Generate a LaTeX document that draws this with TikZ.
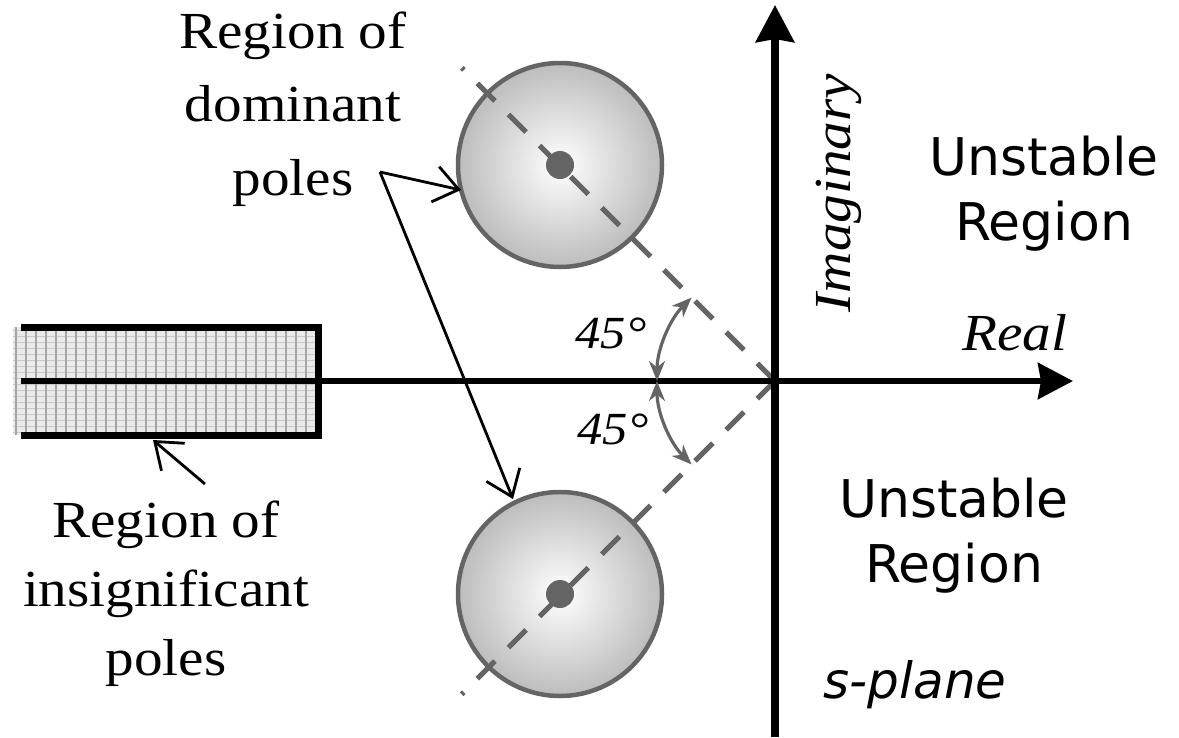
\documentclass[tikz,border=0pt]{standalone}
\usepackage{fontspec}
\setmainfont{Liberation Serif}[FakeStretch=1.1]
\newfontfamily\comic{DejaVu Sans}
\usetikzlibrary{arrows.meta,calc}
\definecolor{dgray}{RGB}{100,100,100}
\definecolor{gridfill}{RGB}{234,234,234}
\definecolor{gridline}{RGB}{165,165,165}
\begin{document}
\begin{tikzpicture}[x=1pt,y=-1pt,
  serif/.style={font=\fontsize{52}{60}\selectfont, inner sep=0pt},
  serifit/.style={font=\fontsize{52}{60}\selectfont\itshape, inner sep=0pt},
  deg/.style={font=\fontsize{46}{50}\selectfont\itshape, inner sep=0pt},
  comicfont/.style={font=\comic\fontsize{52}{60}\selectfont, inner sep=0pt},
  pointer/.style={line width=2.8pt, black, -{Straight Barb[length=24pt,width=36pt,line width=2.8pt]}},
  anglearc/.style={line width=3.2pt, dgray, {Stealth[length=20pt,width=16pt]}-{Stealth[length=20pt,width=16pt]}},
  diag/.style={line width=5pt, dgray, dash pattern=on 25pt off 19pt},
  zonefill/.style={inner color=white, outer color=black!26},
  zoneline/.style={line width=4.5pt, dgray},
]
\useasboundingbox (0,0) rectangle (1179,737);

% origin
\coordinate (O) at (775,381);

% insignificant region (grid)
\fill[gridfill] (13,327) rectangle (318,435);
\foreach \yy in {330,336,...,432} \draw[gridline!60, line width=0.8pt] (13,\yy) -- (318,\yy);
\foreach \xx in {16,26,...,316} \draw[gridline, line width=1.3pt] (\xx,327) -- (\xx,435);
\draw[line width=7pt, line join=miter] (21,327) -- (318,327) -- (318,435) -- (21,435);

% circles
\coordinate (C1) at (560,165);
\coordinate (C2) at (560,594);
\shade[zonefill] (C1) circle (102);
\draw[zoneline] (C1) circle (102);
\shade[zonefill] (C2) circle (102);
\draw[zoneline] (C2) circle (102);

% dashed 45 deg lines
\draw[diag] (O) -- ++(225:443);
\draw[diag] (O) -- ++(135:443);
\fill[dgray] (C1) circle (14);
\fill[dgray] (C2) circle (14);

% axes
\draw[line width=6pt, -{Stealth[length=35pt,width=36pt,inset=3pt]}] (21,381) -- (1073,381);
\draw[line width=7.5pt, -{Stealth[length=37pt,width=38pt,inset=3pt]}] (775,737) -- (775,5);

% angle arcs
\draw[anglearc] ($(O)+(225:118)$) arc (225:180:118);
\draw[anglearc] ($(O)+(180:118)$) arc (180:135:118);
\node[deg] (a1) at (611,333) {45°};
\node[deg] (a2) at (613,429) {45°};

% pointers
\coordinate (J) at (380,172);
\coordinate (P1) at (461,190);
\coordinate (P2) at (513,499);
\draw[pointer] (J) -- (P1);
\draw[pointer] (J) -- (P2);
\coordinate (K) at (205,484);
\coordinate (K1) at (153,440);
\draw[pointer] (K) -- (K1);

% text: dominant poles
\node[serif, anchor=base] (d1) at (293,48) {Region of};
\node[serif, anchor=base] (d2) at (293,121) {dominant};
\node[serif, anchor=base] (d3) at (293,195) {poles};

% text: insignificant poles
\node[serif, anchor=base] (i1) at (166,537) {Region of};
\node[serif, anchor=base] (i2) at (166,606) {insignificant};
\node[serif, anchor=base] (i3) at (166,675) {poles};

% axis labels
\node[serifit, anchor=base, rotate=90] (im) at (850,193) {Imaginary};
\node[serifit, anchor=base] (re) at (1015,350) {Real};

% unstable regions
\node[comicfont, anchor=base] (u1) at (1044,175) {Unstable};
\node[comicfont, anchor=base] (u2) at (1044,240) {Region};
\node[comicfont, anchor=base] (u3) at (954,517) {Unstable};
\node[comicfont, anchor=base] (u4) at (954,582) {Region};
\node[comicfont, anchor=base, font=\comic\itshape\fontsize{50}{60}\selectfont] (sp) at (915,698) {s-plane};
\end{tikzpicture}
\end{document}
